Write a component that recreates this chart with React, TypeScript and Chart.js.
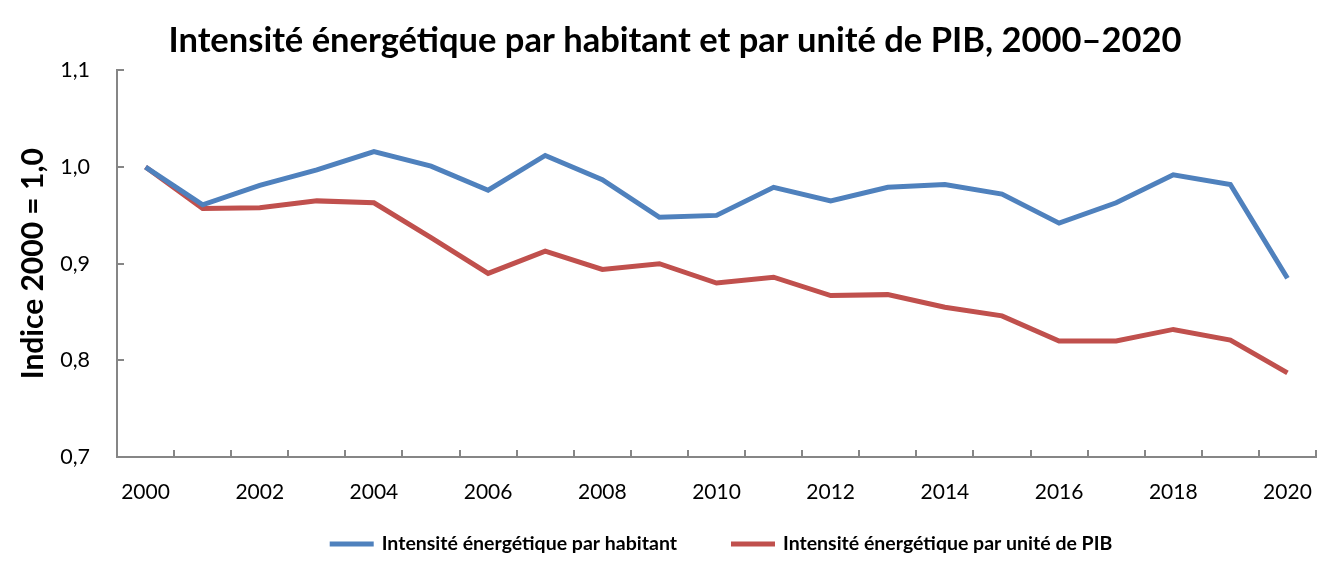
import React, { useEffect, useRef } from "react";
import { Chart, registerables } from "chart.js";

Chart.register(...registerables);

const years = ["2000","2001","2002","2003","2004","2005","2006","2007","2008","2009","2010","2011","2012","2013","2014","2015","2016","2017","2018","2019","2020"];
const parHabitant = [1.0,0.961,0.981,0.997,1.016,1.001,0.976,1.012,0.987,0.948,0.950,0.979,0.965,0.979,0.982,0.972,0.942,0.963,0.992,0.982,0.885];
const parPIB = [1.0,0.957,0.958,0.965,0.963,0.927,0.890,0.913,0.894,0.900,0.880,0.886,0.867,0.868,0.855,0.846,0.820,0.820,0.832,0.821,0.787];
const seriesNames = ["Intensité énergétique par habitant", "Intensité énergétique par unité de PIB"];
const titleText = "Intensité énergétique par habitant et par unité de PIB, 2000–2020";
const yTitle = "Indice 2000 = 1,0";

const FONT = "Lato, 'Open Sans', sans-serif";
const AXIS = "#868686";
const LEGEND_FONT = `bold 19.5px ${FONT}`;

const customPlugin = {
  id: "customPlugin",
  afterLayout(chart: any) {
    if (chart.titleBlock) { chart.titleBlock.left += 17; chart.titleBlock.right += 17; }
  },
  afterDraw(chart: any) {
    const ctx = chart.ctx;
    const x = chart.scales.x;
    const y = chart.scales.y;
    const area = chart.chartArea;
    ctx.save();
    ctx.strokeStyle = AXIS;
    ctx.lineWidth = 2;
    const n = years.length;
    const step = x.getPixelForValue(1) - x.getPixelForValue(0);
    for (let i = 1; i <= n; i++) {
      const px = Math.round(x.getPixelForValue(i - 1) + step / 2);
      ctx.beginPath();
      ctx.moveTo(px, area.bottom);
      ctx.lineTo(px, area.bottom - 7);
      ctx.stroke();
    }
    for (const t of y.ticks) {
      const py = Math.round(y.getPixelForValue(t.value));
      ctx.beginPath();
      ctx.moveTo(area.left, py);
      ctx.lineTo(area.left + 7, py);
      ctx.stroke();
    }
    // legend
    ctx.font = LEGEND_FONT;
    ctx.textBaseline = "middle";
    ctx.textAlign = "left";
    const lineW = 44, textGap = 8, itemGap = 54;
    const ds = chart.data.datasets;
    const widths = ds.map((d: any) => ctx.measureText(d.label).width);
    const total = widths.reduce((a: number, w: number) => a + lineW + textGap + w, 0) + itemGap * (ds.length - 1);
    let cx = 721 - total / 2;
    const ly = area.bottom + 87;
    ds.forEach((d: any, i: number) => {
      ctx.strokeStyle = d.borderColor;
      ctx.lineWidth = 5;
      ctx.lineCap = "butt";
      ctx.beginPath();
      ctx.moveTo(cx, ly);
      ctx.lineTo(cx + lineW, ly);
      ctx.stroke();
      ctx.fillStyle = "#000";
      ctx.fillText(d.label, cx + lineW + textGap, ly);
      cx += lineW + textGap + widths[i] + itemGap;
    });
    ctx.restore();
  },
};

export default function App() {
  const ref = useRef<HTMLCanvasElement>(null);
  useEffect(() => {
    document.body.style.margin = "0";
    const chart = new Chart(ref.current!, {
      type: "line",
      data: {
        labels: years,
        datasets: [
          { label: seriesNames[0], data: parHabitant, borderColor: "#4F81BD", backgroundColor: "#4F81BD", borderWidth: 5, pointRadius: 0, tension: 0 },
          { label: seriesNames[1], data: parPIB, borderColor: "#C0504D", backgroundColor: "#C0504D", borderWidth: 5, pointRadius: 0, tension: 0 },
        ],
      },
      options: {
        responsive: false,
        animation: false,
        layout: { padding: { left: 0, right: 18, top: 0, bottom: 58 } },
        plugins: {
          title: {
            display: true,
            text: titleText,
            color: "#000",
            font: { family: FONT, size: 34.5, weight: "bold" },
            padding: { top: 20, bottom: 9 },
          },
          legend: { display: false },
          tooltip: { enabled: false },
        },
        scales: {
          x: {
            type: "category",
            offset: true,
            grid: { display: false, offset: true },
            border: { display: true, color: AXIS, width: 2 },
            ticks: {
              autoSkip: false,
              maxRotation: 0,
              color: "#000",
              padding: 15,
              font: { family: FONT, size: 21 },
              callback: (_v: any, i: number) => (i % 2 === 0 ? years[i] : ""),
            },
            afterFit: (s: any) => { s.height = 60; },
          },
          y: {
            min: 0.7,
            max: 1.1,
            grid: { display: false },
            border: { display: true, color: AXIS, width: 2 },
            ticks: {
              stepSize: 0.1,
              color: "#000",
              padding: 19,
              font: { family: FONT, size: 21.5 },
              callback: (v: any) => Number(v).toFixed(1).replace(".", ","),
            },
            title: {
              display: true,
              text: yTitle,
              color: "#000",
              font: { family: FONT, size: 30, weight: "bold" },
              padding: { top: 15, bottom: 0 },
            },
            afterFit: (s: any) => { s.width = 117; },
          },
        },
      },
      plugins: [customPlugin],
    });
    return () => chart.destroy();
  }, []);
  return <canvas ref={ref} width={1334} height={575} style={{ display: "block" }} />;
}
